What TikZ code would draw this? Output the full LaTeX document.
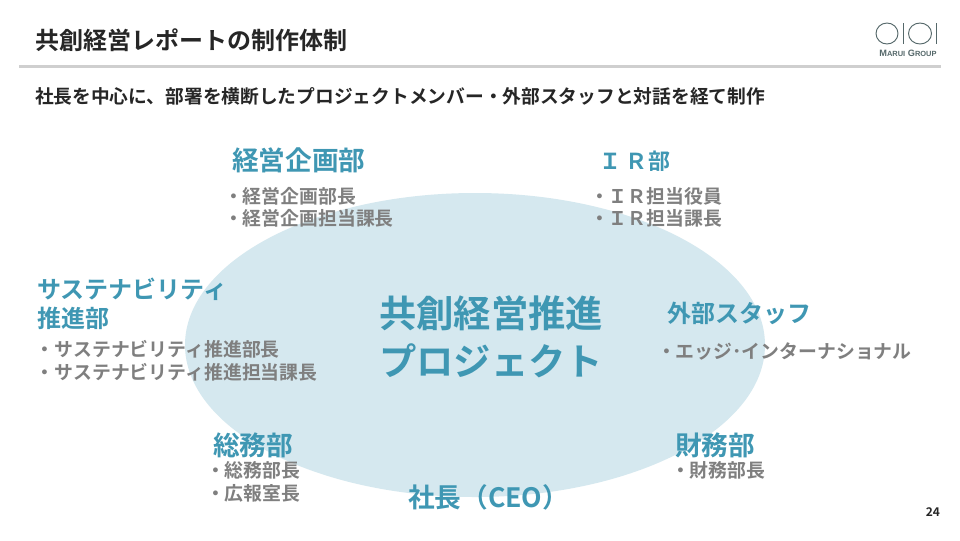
\documentclass[tikz,border=0pt]{standalone}
\usepackage{fontspec}
\setmainfont{Noto Sans CJK JP}[BoldFont={Noto Sans CJK JP Bold}]
\newfontfamily\logofont{Liberation Sans}
\definecolor{teal1}{HTML}{3F97B3}
\definecolor{gray1}{HTML}{7F7F7F}
\definecolor{ink}{HTML}{262626}
\definecolor{blob}{HTML}{D5E8EF}
\definecolor{rulec}{HTML}{CFCFCF}
\definecolor{logoc}{HTML}{55686A}
\tikzset{
 every node/.style={inner sep=0pt,outer sep=0pt,anchor=west},
 title/.style={font=\fontsize{18}{22}\selectfont\bfseries,text=ink},
 sub/.style={font=\fontsize{14.05}{17}\selectfont\bfseries,text=ink},
 head/.style={font=\fontsize{18}{24}\selectfont\bfseries,text=teal1},
 headb/.style={font=\fontsize{20}{24}\selectfont\bfseries,text=teal1},
 item/.style={font=\fontsize{14.15}{17}\selectfont\bfseries,text=gray1},
 big/.style={font=\fontsize{28}{36}\selectfont\bfseries,text=teal1,anchor=center,align=center},
 logo/.style={draw=logoc,line width=0.7pt}
}
\begin{document}
\begin{tikzpicture}[x=0.75pt,y=-0.75pt]
\useasboundingbox (0,0) rectangle (960,540);
\fill[white] (0,0) rectangle (960,540);
\fill[rulec] (19,65) rectangle (941,68);
\fill[blob] (475,345) ellipse [x radius=290,y radius=152];
\node[title] (t) at (35,40) {共創経営レポートの制作体制};
\node[sub] (s) at (35,96) {社長を中心に、部署を横断したプロジェクトメンバー・外部スタッフと対話を経て制作};
\node[headb] (h1) at (232,160) {経営企画部};
\node[item] (i11) at (224,196) {・経営企画部長};
\node[item] (i12) at (224,218) {・経営企画担当課長};
\node[head] (h2) at (599,161) {\fontsize{16.5}{20}\selectfont Ｉ Ｒ部};
\node[item] (i21) at (590,196) {・ＩＲ担当役員};
\node[item] (i22) at (590,218) {・ＩＲ担当課長};
\node[head] (h3) at (37,289) {サステナビリティ};
\node[head] (h3b) at (37,318) {推進部};
\node[item] (i31) at (36,349) {・サステナビリティ推進部長};
\node[item] (i32) at (36,372) {・サステナビリティ推進担当課長};
\node[big] (c) at (491,337) {共創経営推進\\プロジェクト};
\node[head] (h4) at (667,313) {外部スタッフ};
\node[item] (i41) at (657,351) {・エッジ･インターナショナル};
\node[headb] (h5) at (213,445) {総務部};
\node[item] (i51) at (206,470) {・総務部長};
\node[item] (i52) at (206,493) {・広報室長};
\node[headb] (h6) at (675,445) {財務部};
\node[item] (i61) at (671,470) {・財務部長};
\node[headb] (h7) at (408,497) {社長（CEO）};
\node[font=\fontsize{9}{11}\selectfont\bfseries,text=ink,anchor=east] (p) at (940,512) {24};
% logo
\draw[logo] (887,33.5) ellipse [x radius=11,y radius=10.5];
\draw[logo] (903.5,23) -- (903.5,44);
\draw[logo] (920,33.5) ellipse [x radius=11.5,y radius=10.5];
\draw[logo] (936.5,23) -- (936.5,44);
\node[font=\logofont\fontsize{6.9}{7}\selectfont\bfseries,text=logoc,anchor=center] (l) at (908,53) {M{\fontsize{5.6}{7}\selectfont ARUI} G{\fontsize{5.6}{7}\selectfont ROUP}};
\end{tikzpicture}
\end{document}
